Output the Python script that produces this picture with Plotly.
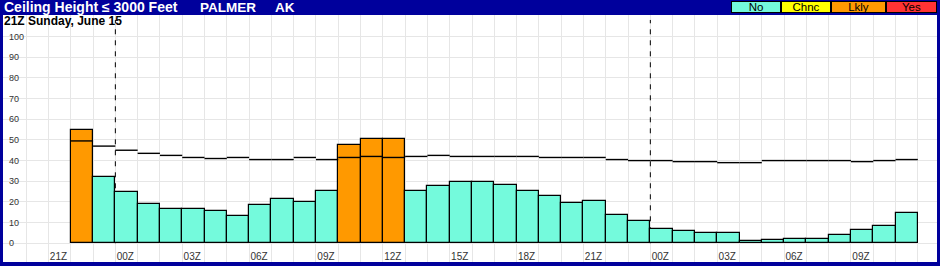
import plotly.graph_objects as go

# ---------------- data ----------------
title_text = "Ceiling Height ≤ 3000 Feet"
station = "PALMER"
state = "AK"
issue_label = "21Z Sunday, June 15"

start_hour = 21          # hour (Z) at x offset 0
first_bar_offset = 1     # first forecast hour = 22Z

ceiling_pct = [55, 32, 25, 19, 16.5, 16.5, 15.5, 13, 18.5, 21.5, 20, 25.5,
               47.5, 50.5, 50.5, 25.5, 27.5, 29.5, 29.5, 28, 25.5, 23, 19.5, 20.5,
               13.5, 11, 7, 6, 5, 5, 1, 1.5, 2, 2, 4, 6.5, 8.5, 14.5]
climo_pct = [49.5, 47, 45, 43.5, 42.5, 41.5, 41, 41.5, 40.5, 40.5, 41.5, 40.5,
             41.5, 42, 41.5, 42, 42.5, 42, 42, 42, 42, 41.5, 41.5, 41.5,
             40.5, 40, 40, 39.5, 39.5, 39, 39, 40, 40, 40, 40, 39.5, 40, 40.5]
bar_category = ["Lkly"] + ["No"] * 11 + ["Lkly"] * 3 + ["No"] * 23

legend_names = ["No", "Chnc", "Lkly", "Yes"]
legend_colors = ["#74FADC", "#FFFF00", "#FF9900", "#FF3333"]

x_tick_labels = ["21Z", "00Z", "03Z", "06Z", "09Z", "12Z", "15Z", "18Z",
                 "21Z", "00Z", "03Z", "06Z", "09Z"]
y_ticks = [0, 10, 20, 30, 40, 50, 60, 70, 80, 90, 100]

# ---------------- layout constants ----------------
W, H = 940, 266
ML, MR, MT, MB = 3, 3, 15, 4
PW, PH = W - ML - MR, H - MT - MB
FRAME = "#00009C"
GRID = "#E6E6E6"
FONT = "Liberation Sans, Arial, sans-serif"


def px_x(p):
    return (p - ML) / PW


def px_y(q):
    return (H - MB - q) / PH


color_of = dict(zip(legend_names, legend_colors))
n = len(ceiling_pct)
bar_x = [first_bar_offset + i + 0.5 for i in range(n)]

fig = go.Figure()
fig.add_trace(go.Bar(
    x=bar_x, y=ceiling_pct, width=1,
    marker=dict(color=[color_of[c] for c in bar_category],
                line=dict(color="black", width=1.2)),
    showlegend=False, hoverinfo="skip"))

# climatology step segments
lx, ly = [], []
for i, v in enumerate(climo_pct):
    lx += [first_bar_offset + i, first_bar_offset + i + 1, None]
    ly += [v, v, None]
fig.add_trace(go.Scatter(x=lx, y=ly, mode="lines",
                         line=dict(color="black", width=1.4),
                         showlegend=False, hoverinfo="skip"))

x_min, x_max = -2.04, 39.86
grid_vals = list(range(-1, 40))
label_pos = {3 * k: t for k, t in enumerate(x_tick_labels)}
tick_text = [label_pos.get(v, "") for v in grid_vals]

shapes = []
# day boundaries (00Z)
for v in grid_vals:
    if v >= 0 and (start_hour + v) % 24 == 0:
        shapes.append(dict(type="line", xref="x", yref="y", x0=v, x1=v, y0=0, y1=108,
                           line=dict(color="black", width=1, dash="5px,6px"),
                           layer="between"))
# label strips (cover grid behind y labels)
shapes.append(dict(type="rect", xref="paper", yref="paper", x0=0, x1=px_x(18.5),
                   y0=0, y1=1, fillcolor="white", line=dict(width=0), layer="between"))
shapes.append(dict(type="rect", xref="paper", yref="paper", x0=px_x(918), x1=1,
                   y0=0, y1=1, fillcolor="white", line=dict(width=0), layer="between"))

annotations = [
    dict(text=f"<b>{title_text}</b>", x=px_x(2), y=px_y(7.5), font_size=14),
    dict(text=f"<b>{station}</b>", x=px_x(198), y=px_y(7.5), font_size=13.5),
    dict(text=f"<b>{state}</b>", x=px_x(273), y=px_y(7.5), font_size=13.5),
]
for a in annotations:
    fs = a.pop("font_size")
    a.update(xref="paper", yref="paper", xanchor="left", yanchor="middle",
             showarrow=False, font=dict(family=FONT, size=fs, color="white"))
annotations.append(dict(text=f"<b>{issue_label}</b>", x=px_x(1.5), y=px_y(21.5),
                        xref="paper", yref="paper", xanchor="left", yanchor="middle",
                        showarrow=False, font=dict(family=FONT, size=12, color="black")))

# legend boxes
box_edges = [730.7, 780.7, 830.7, 885.7, 936.7]
for i, (name, col) in enumerate(zip(legend_names, legend_colors)):
    x0, x1 = box_edges[i], box_edges[i + 1]
    annotations.append(dict(text=name, x=px_x((x0 + x1) / 2), y=px_y(7.5),
                            xref="paper", yref="paper", xanchor="center", yanchor="middle",
                            showarrow=False, width=x1 - x0 - 2, height=10,
                            bgcolor=col, bordercolor="black", borderwidth=1, borderpad=0,
                            font=dict(family=FONT, size=11.5, color="black")))

fig.update_layout(
    width=W, height=H,
    margin=dict(l=ML, r=MR, t=MT, b=MB, pad=0),
    paper_bgcolor=FRAME, plot_bgcolor="white",
    bargap=0, showlegend=False,
    shapes=shapes, annotations=annotations,
    xaxis=dict(range=[x_min, x_max], tickmode="array", tickvals=grid_vals,
               ticktext=tick_text, showgrid=True, gridcolor=GRID, gridwidth=1,
               zeroline=False, showline=False, ticks="",
               ticklabelposition="inside", ticklabelshift=10, ticklabelstandoff=-3,
               ticklabeloverflow="allow",
               tickfont=dict(family=FONT, size=10, color="#333")),
    yaxis=dict(range=[-9.05, 110.4], tickmode="array", tickvals=y_ticks,
               showgrid=True, gridcolor=GRID, gridwidth=1, zeroline=False,
               showline=False, ticks="", ticklabelposition="inside",
               ticklabeloverflow="allow", ticklabelstandoff=3,
               tickfont=dict(family=FONT, size=9, color="#333")),
    yaxis2=dict(range=[-9.05, 110.4], tickmode="array", tickvals=y_ticks,
                overlaying="y", side="right", showgrid=False, zeroline=False,
                showline=False, ticks="", ticklabelposition="inside",
                ticklabeloverflow="allow", ticklabelstandoff=4,
                tickfont=dict(family=FONT, size=9, color="#333")),
)

fig.write_html("out.html")
